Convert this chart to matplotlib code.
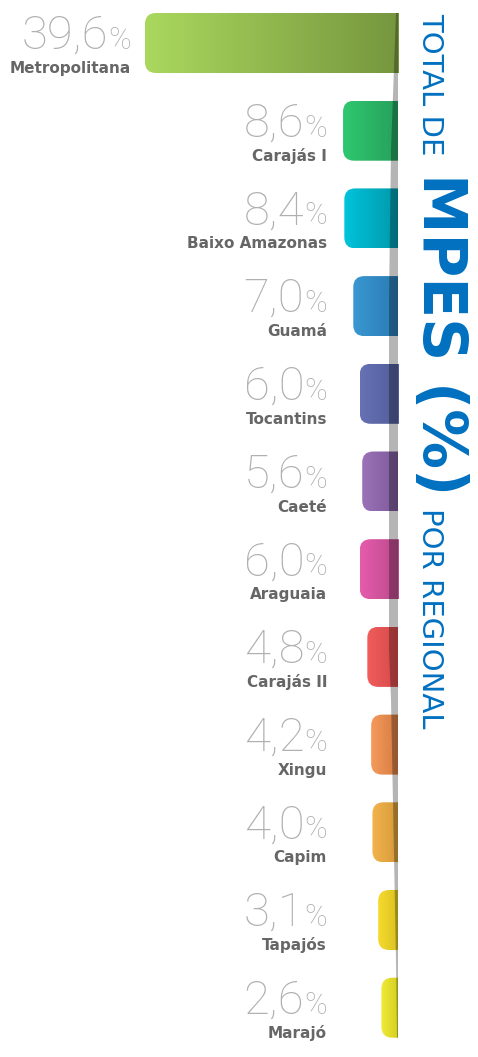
import numpy as np
import matplotlib
matplotlib.use("Agg")
import matplotlib.pyplot as plt
import matplotlib.transforms as mtransforms
from matplotlib.patches import FancyBboxPatch, Polygon
from matplotlib.colors import to_rgb

# dados
regionais = ["Metropolitana", "Carajás I", "Baixo Amazonas", "Guamá", "Tocantins", "Caeté",
             "Araguaia", "Carajás II", "Xingu", "Capim", "Tapajós", "Marajó"]
percentuais = [39.6, 8.6, 8.4, 7.0, 6.0, 5.6, 6.0, 4.8, 4.2, 4.0, 3.1, 2.6]
cor_clara = ["#aad85e", "#30c870", "#00c4dc", "#3a98d2", "#6672b4", "#9c72b8",
             "#e65cae", "#f25c5c", "#f69a5c", "#f4b44c", "#f6da2c", "#f0ea3a"]
cor_escura = ["#76963e", "#26a05c", "#0098aa", "#2a7ab2", "#525c9a", "#7c5a9a",
              "#ba4a8a", "#d44a4a", "#d47c42", "#d49a3a", "#dac222", "#d6d022"]

W, H, DPI = 478, 1057, 100
fig = plt.figure(figsize=(W / DPI, H / DPI), dpi=DPI)
ax = fig.add_axes([0, 0, 1, 1])
ax.axis("off")

px_pct = 6.39     # pixels por ponto percentual
px_linha = 87.7   # pixels entre barras
x0, y0 = 398, 43  # fim das barras / centro da primeira
ax.set_xlim(x0 / px_pct, -(W - x0) / px_pct)
ax.set_ylim((H - y0) / px_linha, -y0 / px_linha)

altura = 60 / px_linha
raio = 11 / px_pct
cinza = "#b0b0b0"
fonte_fina = ["Roboto", "DejaVu Sans"]

renderer = fig.canvas.get_renderer()

for i, (nome, v) in enumerate(zip(regionais, percentuais)):
    # barra com gradiente e canto arredondado a esquerda
    caixa = FancyBboxPatch((-2, i - altura / 2), v + 2, altura,
                           boxstyle=f"round,pad=0,rounding_size={raio}",
                           mutation_aspect=px_pct / px_linha,
                           facecolor="none", edgecolor="none")
    ax.add_patch(caixa)
    t = np.linspace(0, 1, 256)[:, None]
    cores = (1 - t) * np.array(to_rgb(cor_clara[i])) + t * np.array(to_rgb(cor_escura[i]))
    im = ax.imshow(cores[None, :, :], extent=(v, 0, i + altura / 2, i - altura / 2),
                   aspect="auto", interpolation="bilinear", zorder=2)
    im.set_clip_path(caixa)

    # rotulos
    lx = max(11.1, v + 2.2)
    tr_num = mtransforms.offset_copy(ax.transData, fig=fig, x=0, y=-6, units="dots")
    pct = ax.text(lx, i, "%", transform=tr_num, ha="right", va="baseline",
                  fontsize=22, color=cinza, family=fonte_fina, fontweight="light")
    w = pct.get_window_extent(renderer).width
    tr_val = mtransforms.offset_copy(ax.transData, fig=fig, x=-w, y=-6, units="dots")
    ax.text(lx, i, f"{v:.1f}".replace(".", ","), transform=tr_val, ha="right",
            va="baseline", fontsize=34, color=cinza, family=fonte_fina, fontweight="light")
    tr_nome = mtransforms.offset_copy(ax.transData, fig=fig, x=0, y=-30, units="dots")
    ax.text(lx, i, nome, transform=tr_nome, ha="right", va="baseline",
            fontsize=11, color="#666666", fontweight="bold")

# sombra vertical sobre o fim das barras
sombra_y = [13, 150, 300, 650, 700, 960, 1038]
sombra_x = [396, 391, 389, 389, 391, 396, 397]
pts = [((x0 - sx) / px_pct, (sy - y0) / px_linha) for sx, sy in zip(sombra_x, sombra_y)]
pts += [(0.0, (1038 - y0) / px_linha), (0.0, (13 - y0) / px_linha)]
ax.add_patch(Polygon(pts, closed=True, facecolor="black", edgecolor="none",
                     alpha=0.29, zorder=3))

# titulo vertical
azul = "#0070c0"
fig.text(422 / W, 1 - 13 / H, "TOTAL DE", rotation=-90, rotation_mode="anchor",
         ha="left", va="baseline", fontsize=21, color=azul, family="DejaVu Sans")
fig.text(423 / W, 1 - 173 / H, "MPES (%)", rotation=-90, rotation_mode="anchor",
         ha="left", va="baseline", fontsize=43, color=azul, fontweight="bold")
fig.text(422 / W, 1 - 508 / H, "POR REGIONAL", rotation=-90, rotation_mode="anchor",
         ha="left", va="baseline", fontsize=21, color=azul, family="DejaVu Sans")

fig.savefig("out.png", dpi=DPI)
